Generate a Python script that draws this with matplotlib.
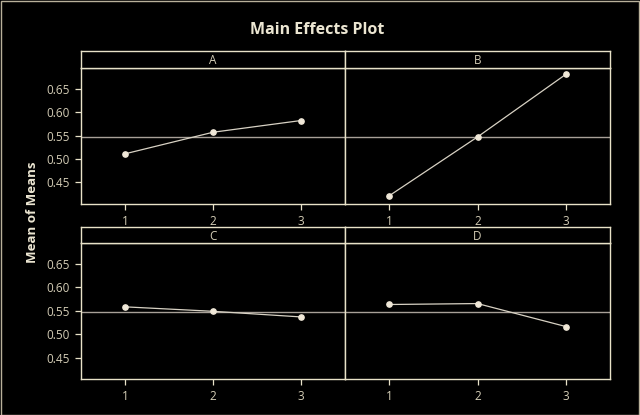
import matplotlib
matplotlib.use("Agg")
import matplotlib.pyplot as plt
from matplotlib.patches import Rectangle

# factor levels and mean of means
factors = ["A", "B", "C", "D"]
levels = [1, 2, 3]
means_A = [0.511, 0.557, 0.582]
means_B = [0.4215, 0.547, 0.6805]
means_C = [0.5585, 0.549, 0.537]
means_D = [0.5635, 0.5655, 0.5165]
grand_mean = 0.547
y_ticks = [0.45, 0.50, 0.55, 0.60, 0.65]

all_means = [means_A, means_B, means_C, means_D]

frame_col = "#e8e2c8"
text_col = "#d4cdb6"
line_col = "#d8d2c4"
ref_col = "#a8a098"

plt.rcParams['font.family'] = ['Open Sans', 'DejaVu Sans']

W, H = 640, 415
fig = plt.figure(figsize=(W / 100, H / 100), dpi=100, facecolor="black")

def box(x0, x1, y0, y1):
    # pixel box -> figure fraction
    return [x0 / W, 1 - y1 / H, (x1 - x0) / W, (y1 - y0) / H]

cols = [(81, 345), (345, 610)]
rows = [(50.7, 68, 204), (227.3, 243.3, 379.3)]

for i, name in enumerate(factors):
    r, c = divmod(i, 2)
    x0, x1 = cols[c]
    htop, ptop, pbot = rows[r]

    ax = fig.add_axes(box(x0, x1, ptop, pbot), facecolor="black")
    ax.plot(levels, all_means[i], color=line_col, lw=0.9, marker="o",
            markersize=3.8, markerfacecolor="#f0e8d8", markeredgecolor="#f0e8d8", zorder=3)
    ax.axhline(grand_mean, color=ref_col, lw=1.0, zorder=2)
    ax.set_xlim(0.5, 3.5)
    ax.set_ylim(0.404, 0.694)
    ax.set_xticks(levels)
    ax.set_yticks(y_ticks)
    ax.set_yticklabels([f"{v:.2f}" for v in y_ticks])
    for s in ax.spines.values():
        s.set_color(frame_col)
        s.set_linewidth(1.0)
    ax.tick_params(labelsize=8.5, length=4, width=0.9, direction="out", pad=4)
    ax.tick_params(axis="x", colors=frame_col, labelcolor=text_col)
    ax.tick_params(axis="y", colors=frame_col, labelcolor=text_col)
    if c == 1:
        ax.tick_params(axis="y", left=False, labelleft=False)

    hax = fig.add_axes(box(x0, x1, htop, ptop), facecolor="black")
    hax.set_xticks([])
    hax.set_yticks([])
    for s in hax.spines.values():
        s.set_color(frame_col)
        s.set_linewidth(1.0)
    hax.text(0.5, 0.45, name, ha="center", va="center", color=text_col,
             fontsize=8.5, transform=hax.transAxes)

fig.text(317 / W, 1 - 30 / H, "Main Effects Plot", ha="center", va="center",
         color="#ece6d2", fontsize=11.5, fontweight="bold")
fig.text(32 / W, 1 - 212 / H, "Mean of Means", ha="center", va="center",
         rotation=90, color="#ece6d2", fontsize=9.5, fontweight="bold")

fig.patches.append(Rectangle((0.0008, 0.001), 0.998, 0.997, transform=fig.transFigure,
                             fill=False, edgecolor="#b8b09a", lw=1.0))

fig.savefig("out.png", dpi=100, facecolor="black")
